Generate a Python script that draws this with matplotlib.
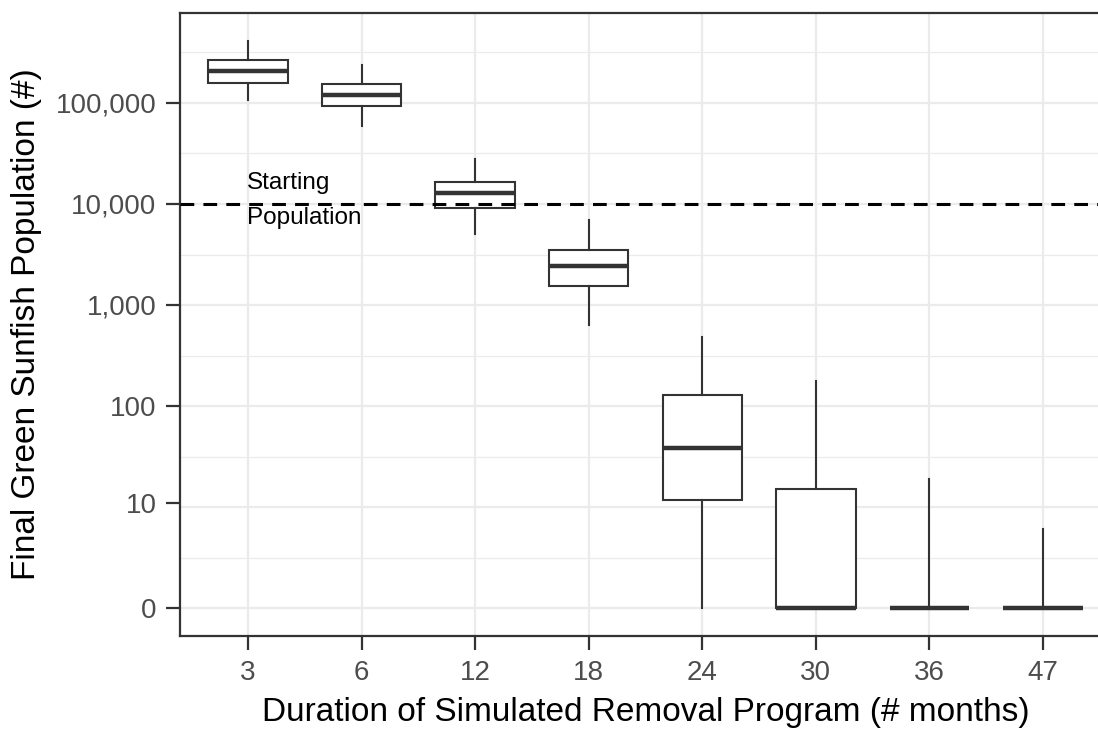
import numpy as np
import matplotlib
matplotlib.use("Agg")
import matplotlib.pyplot as plt

plt.rcParams["font.family"] = ["Liberation Sans", "DejaVu Sans"]

# duracao do programa (meses) e resumo dos boxplots (populacao final, nº de peixes)
meses = ["3", "6", "12", "18", "24", "30", "36", "47"]
whisker_alto = [407000, 240000, 28000, 6900, 478, 177, 18, 5]
q3 = [269000, 155000, 16600, 3470, 128, 14, 0, 0]
mediana = [209000, 120000, 12900, 2450, 37, 0, 0, 0]
q1 = [158000, 93000, 9100, 1550, 10.7, 0, 0, 0]
whisker_baixo = [107000, 59000, 5000, 630, 0, 0, 0, 0]
pop_inicial = 10000

tick_vals = [0, 10, 100, 1000, 10000, 100000]
tick_labels = ["0", "10", "100", "1,000", "10,000", "100,000"]


def trans(v):
    return np.log10(np.asarray(v, dtype=float) + 1)


stats = []
for i in range(len(meses)):
    stats.append({
        "whislo": trans(whisker_baixo[i]), "q1": trans(q1[i]),
        "med": trans(mediana[i]), "q3": trans(q3[i]),
        "whishi": trans(whisker_alto[i]), "fliers": [],
    })

fig = plt.figure(figsize=(10.98, 7.32), dpi=100)
ax = fig.add_axes([180 / 1098, 96 / 732, 931 / 1098, 623 / 732])

cor = "#333333"
grid = "#EBEBEB"
pos = np.arange(1, len(meses) + 1)

# grade (maior e menor)
for y in range(6):
    ax.axhline(y, color=grid, lw=1.6, zorder=0)
    ax.axhline(y + 0.5, color=grid, lw=0.9, zorder=0)
for x in pos:
    ax.axvline(x, color=grid, lw=1.6, zorder=0)

ax.bxp(stats, positions=pos, widths=0.7, showfliers=False, showcaps=False,
       patch_artist=True,
       boxprops=dict(facecolor="white", edgecolor=cor, linewidth=1.5),
       whiskerprops=dict(color=cor, linewidth=1.5),
       medianprops=dict(color=cor, linewidth=3.2, solid_capstyle="butt"),
       zorder=2)

ax.axhline(trans(pop_inicial), color="black", lw=2.2, ls=(0, (4.5, 3)), zorder=3)
ax.text(0.99, 4.21, "Starting", ha="left", va="center", fontsize=17.5, color="black")
ax.text(0.99, 3.86, "Population", ha="left", va="center", fontsize=17.5, color="black")

ax.set_xlim(0.4, 8.6)
ax.set_ylim(-0.277, 5.891)
ax.set_xticks(pos)
ax.set_xticklabels(meses)
ax.set_yticks(trans(tick_vals))
ax.set_yticklabels(tick_labels)

ax.tick_params(axis="both", length=10, width=1.6, color=cor, labelcolor="#4D4D4D",
               labelsize=20, pad=7)
for s in ax.spines.values():
    s.set_color(cor)
    s.set_linewidth(1.6)

ax.set_xlabel("Duration of Simulated Removal Program (# months)", fontsize=24,
              color="black", labelpad=8)
ax.set_ylabel("Final Green Sunfish Population (#)", fontsize=24, color="black",
              labelpad=10)

fig.savefig("out.png", dpi=100)
